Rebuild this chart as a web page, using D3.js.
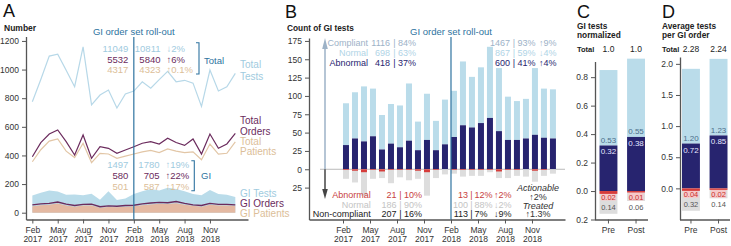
<!DOCTYPE html>
<html>
<head>
<meta charset="utf-8">
<title>GI order set roll-out</title>
<script src="https://d3js.org/d3.v7.min.js"></script>
<style>
  body { margin: 0; background: #fff; }
  svg { font-family: "Liberation Sans", Arial, "DejaVu Sans", sans-serif; }
</style>
</head>
<body>
<svg id="chart" width="731" height="246"></svg>
<script>
// ---- data ----
const tickIdx = [0, 3, 6, 9, 12, 15, 18, 21];
const tickMonths = ["Feb", "May", "Aug", "Nov", "Feb", "May", "Aug", "Nov"];
const tickYears = ["2017", "2017", "2017", "2017", "2018", "2018", "2018", "2018"];

// panel A, monthly Feb 2017 .. Feb 2019
const totalTests = [775, 930, 1094, 1108, 995, 880, 1159, 753, 822, 857, 731, 830,
                    850, 915, 870, 930, 988, 915, 925, 905, 742, 997, 850, 880, 973];
const totalOrders = [391, 489, 550, 578, 496, 403, 543, 380, 461, 450, 415, 438,
                     461, 485, 496, 480, 520, 490, 470, 515, 410, 550, 450, 480, 554];
const totalPatients = [356, 440, 500, 515, 430, 385, 485, 350, 415, 410, 380, 395,
                       410, 425, 435, 420, 445, 430, 420, 425, 370, 480, 410, 415, 495];
const giTests = [120, 140, 155, 148, 125, 128, 122, 132, 90, 150, 88, 100,
                 130, 150, 165, 155, 175, 165, 150, 130, 122, 158, 130, 125, 110];
const giOrders = [55, 62, 65, 75, 60, 50, 58, 60, 42, 48, 45, 50,
                  52, 62, 68, 72, 70, 78, 65, 55, 50, 65, 58, 58, 55];
const giPatients = [45, 52, 55, 65, 50, 42, 50, 50, 35, 40, 38, 42,
                    45, 52, 58, 62, 60, 66, 55, 48, 42, 55, 50, 50, 48];

const preTotals = ["11049", "5532", "4317"];
const postTotals = ["10811", "5840", "4323"];
const chgTotals = ["↓2%", "↑6%", "↑0.1%"];
const preGI = ["1497", "580", "501"];
const postGI = ["1780", "705", "587"];
const chgGI = ["↑19%", "↑22%", "↑17%"];

// panel B, monthly Feb 2017 .. Jan 2019
const compliantB = [90, 105, 113, 110, 74, 89, 87, 117, 65, 103, 66, 95,
                    107, 147, 126, 139, 167, 138, 99, 93, 96, 138, 110, 109];
const abnormalB = [33, 42, 38, 45, 27, 35, 30, 39, 26, 40, 26, 34,
                   44, 60, 57, 63, 70, 52, 40, 40, 42, 47, 43, 42];
const noncompB = [13, 18, 36, 13, 12, 19, 11, 15, 13, 36, 12, 7,
                  6, 10, 9, 9, 4, 12, 12, 9, 10, 17, 9, 6];
const noncompAbnB = [1, 2, 4, 1, 3, 1, 1, 1, 2, 4, 1, 0,
                     1, 1, 1, 1, 1, 3, 1, 1, 0, 2, 1, 0];

const topLabelsB = ["Compliant", "Normal", "Abnormal"];
const topPreB = ["1116", "698", "418"];
const topPrePctB = ["84%", "63%", "37%"];
const topPostB = ["1467", "867", "600"];
const topPostPctB = ["93%", "59%", "41%"];
const topChgB = ["↑9%", "↓4%", "↑4%"];
const botLabelsB = ["Abnormal", "Normal", "Non-compliant"];
const botPreB = ["21", "186", "207"];
const botPrePctB = ["10%", "90%", "16%"];
const botPostB = ["13", "100", "113"];
const botPostPctB = ["12%", "88%", "7%"];
const botChgB = ["↑2%", "↓2%", "↓9%"];

// panels C and D
const periods = ["Pre", "Post"];
const normTotal = ["1.0", "1.0"];
const normNormal = [0.53, 0.55];
const normAbnormal = [0.32, 0.38];
const normNcAbn = [0.02, 0.01];
const normNcNormal = [0.14, 0.06];
const avgTotal = ["2.28", "2.24"];
const avgNormal = [1.20, 1.23];
const avgAbnormal = [0.72, 0.85];
const avgNcAbn = [0.04, 0.02];
const avgNcNormal = [0.32, 0.14];

// ---- colours ----
const ROLL = "#2e73a0";
const TESTS = "#b7d8e8", TESTS_TXT = "#9fcbe0";
const ORDERS = "#6b2b5d";
const PATS = "#e2c6a6", PATS_TXT = "#dcbe98";
const GI_PAT = "#e4b9a2";
const LBLUE = "#badcea", NAVY = "#27246f", RED = "#d63c3a", GRAY = "#dddddd", PINK = "#f6c9c9";
const COMPL = "#9db2c7";

const svg = d3.select("#chart");
const FONT = '"Liberation Sans", Arial, "DejaVu Sans", sans-serif';

function label(x, y, s, o = {}) {
  return svg.append("text")
    .attr("x", x).attr("y", y)
    .attr("font-size", o.size || 9.5)
    .attr("fill", o.fill || "#333")
    .attr("text-anchor", o.anchor || "start")
    .attr("font-weight", o.weight || "normal")
    .attr("font-style", o.style || "normal")
    .text(s);
}

function styleAxis(g) {
  g.attr("font-family", FONT);
  g.select(".domain").attr("stroke", "#555").attr("stroke-width", 1.3);
  g.selectAll(".tick line").attr("stroke", "#555");
  g.selectAll(".tick text").attr("fill", "#333").attr("font-size", 8.5);
}

function monthAxis(scale, y) {
  const g = svg.append("g").attr("transform", `translate(0,${y})`)
    .call(d3.axisBottom(scale).tickValues(tickIdx).tickSize(4).tickSizeOuter(0).tickFormat(""));
  styleAxis(g);
  g.selectAll(".tick text").each(function (d, i) {
    const t = d3.select(this);
    t.append("tspan").attr("x", 0).attr("dy", "0.71em").text(tickMonths[i]);
    t.append("tspan").attr("x", 0).attr("dy", "1.15em").text(tickYears[i]);
  });
}

// ================= Panel A =================
label(3, 17, "A", { size: 18, fill: "#111" });
label(4, 31, "Number", { size: 8.5, weight: "bold", fill: "#222" });

const xA = d3.scaleLinear().domain([-0.75, 25.5]).range([26, 248]);
const yA = d3.scaleLinear().domain([-47.5, 1231]).range([219.5, 36.5]);

const areaA = d3.area().x((d, i) => xA(i)).y0(yA(0)).y1(d => yA(d));
const lineA = d3.line().x((d, i) => xA(i)).y(d => yA(d));

svg.append("path").datum(giTests).attr("d", areaA).attr("fill", LBLUE);
svg.append("path").datum(giPatients).attr("d", areaA).attr("fill", GI_PAT);
svg.append("path").datum(giOrders).attr("d", lineA).attr("fill", "none")
  .attr("stroke", ORDERS).attr("stroke-width", 1.4);

svg.append("path").datum(totalTests).attr("d", lineA).attr("fill", "none")
  .attr("stroke", TESTS).attr("stroke-width", 1.2);
svg.append("path").datum(totalPatients).attr("d", lineA).attr("fill", "none")
  .attr("stroke", PATS).attr("stroke-width", 1.2);
svg.append("path").datum(totalOrders).attr("d", lineA).attr("fill", "none")
  .attr("stroke", ORDERS).attr("stroke-width", 1.2);

styleAxis(svg.append("g").attr("transform", "translate(26,0)")
  .call(d3.axisLeft(yA).tickValues(d3.range(0, 1201, 200)).tickSize(4).tickSizeOuter(0)
    .tickFormat(d3.format("d"))));
monthAxis(xA, 219.5);

svg.append("line").attr("x1", xA(12)).attr("x2", xA(12)).attr("y1", 37).attr("y2", 219.5)
  .attr("stroke", ROLL).attr("stroke-width", 1.2);
label(xA(12), 34.5, "GI order set roll-out", { fill: ROLL, anchor: "middle" });

const rowColA = [TESTS_TXT, ORDERS, PATS_TXT];
[51.5, 62.5, 73].forEach((y, i) => {
  label(128.3, y, preTotals[i], { fill: rowColA[i], anchor: "end" });
  label(160.5, y, postTotals[i], { fill: rowColA[i], anchor: "end" });
  label(166.5, y, chgTotals[i], { fill: rowColA[i] });
});
[167.5, 178.5, 189.5].forEach((y, i) => {
  label(128.3, y, preGI[i], { fill: rowColA[i], anchor: "end" });
  label(159.5, y, postGI[i], { fill: rowColA[i], anchor: "end" });
  label(165.5, y, chgGI[i], { fill: rowColA[i] });
});
svg.append("path").attr("d", "M196,42.7H199V74H196").attr("fill", "none").attr("stroke", ROLL).attr("stroke-width", 1.1);
label(204, 63.5, "Total", { fill: ROLL });
svg.append("path").attr("d", "M191.3,160.7H194.3V190.7H191.3").attr("fill", "none").attr("stroke", ROLL).attr("stroke-width", 1.1);
label(201, 178.5, "GI", { fill: ROLL });

label(240, 68, "Total", { fill: TESTS_TXT, size: 10 });
label(240, 79.5, "Tests", { fill: TESTS_TXT, size: 10 });
label(240, 123.5, "Total", { fill: ORDERS, size: 10 });
label(240, 135, "Orders", { fill: ORDERS, size: 10 });
label(240, 144.5, "Total", { fill: PATS_TXT, size: 10 });
label(240, 155, "Patients", { fill: PATS_TXT, size: 10 });
label(240, 196.5, "GI Tests", { fill: TESTS_TXT, size: 10 });
label(240, 206.5, "GI Orders", { fill: ORDERS, size: 10 });
label(240, 216.5, "GI Patients", { fill: PATS_TXT, size: 10 });

// ================= Panel B =================
label(285, 18, "B", { size: 18, fill: "#111" });
label(287, 31, "Count of GI tests", { size: 8.3, weight: "bold", fill: "#222" });

const xB = d3.scaleLinear().domain([-3.78, 24.67]).range([309, 565]);
const yB = d3.scaleLinear().domain([-68.5, 179]).range([219.5, 38]);
const bw = 6;
const idxB = d3.range(compliantB.length);

svg.append("line").attr("x1", 320).attr("x2", 565).attr("y1", yB(0)).attr("y2", yB(0))
  .attr("stroke", "#aaa").attr("stroke-width", 0.8);

svg.append("g").selectAll("rect").data(idxB).join("rect")
  .attr("x", i => xB(i + 0.33) - bw / 2).attr("width", bw)
  .attr("y", i => yB(compliantB[i])).attr("height", i => yB(abnormalB[i]) - yB(compliantB[i]))
  .attr("fill", LBLUE);
svg.append("g").selectAll("rect").data(idxB).join("rect")
  .attr("x", i => xB(i + 0.33) - bw / 2).attr("width", bw)
  .attr("y", i => yB(abnormalB[i])).attr("height", i => yB(0) - yB(abnormalB[i]))
  .attr("fill", NAVY);
svg.append("g").selectAll("rect").data(idxB).join("rect")
  .attr("x", i => xB(i + 0.33) - bw / 2).attr("width", bw)
  .attr("y", yB(0)).attr("height", i => yB(-noncompB[i]) - yB(0))
  .attr("fill", GRAY);
svg.append("g").selectAll("rect").data(idxB).join("rect")
  .attr("x", i => xB(i + 0.33) - bw / 2).attr("width", bw)
  .attr("y", yB(0)).attr("height", i => yB(-noncompAbnB[i]) - yB(0))
  .attr("fill", RED);

styleAxis(svg.append("g").attr("transform", "translate(309,0)")
  .call(d3.axisLeft(yB).tickValues(d3.range(-25, 176, 25)).tickSize(4).tickSizeOuter(0)
    .tickFormat(d => Math.abs(d))));
monthAxis(xB, 219.5);

// arrows
svg.append("line").attr("x1", 325).attr("x2", 325).attr("y1", yB(0)).attr("y2", 48)
  .attr("stroke", COMPL).attr("stroke-width", 1.5);
svg.append("path").attr("d", "M322.2,49L325,38L327.8,49Z").attr("fill", COMPL);
svg.append("line").attr("x1", 325).attr("x2", 325).attr("y1", yB(0)).attr("y2", 190)
  .attr("stroke", "#444").attr("stroke-width", 1.5);
svg.append("path").attr("d", "M322.2,189L325,199L327.8,189Z").attr("fill", "#444");

svg.append("line").attr("x1", xB(12)).attr("x2", xB(12)).attr("y1", 37).attr("y2", 219.5)
  .attr("stroke", ROLL).attr("stroke-width", 1.2);
label(xB(12), 34.5, "GI order set roll-out", { fill: ROLL, anchor: "middle" });

const topColB = [COMPL, "#b0d4e6", NAVY];
[46, 55.6, 66].forEach((y, i) => {
  const o = { fill: topColB[i], size: 9 };
  label(368, y, topLabelsB[i], { ...o, anchor: "end" });
  label(390, y, topPreB[i], { ...o, anchor: "end" });
  label(394.5, y, "|", { ...o, anchor: "middle" });
  label(398, y, topPrePctB[i], o);
  label(510, y, topPostB[i], { ...o, anchor: "end" });
  label(514, y, "|", { ...o, anchor: "middle" });
  label(517.5, y, topPostPctB[i], o);
  label(539, y, topChgB[i], o);
});
const botColB = ["#c8413e", "#c4c4c4", "#222"];
[197.5, 207.5, 217].forEach((y, i) => {
  const o = { fill: botColB[i], size: 9 };
  label(370.7, y, botLabelsB[i], { ...o, anchor: "end" });
  label(396.5, y, botPreB[i], { ...o, anchor: "end" });
  label(400.5, y, "|", { ...o, anchor: "middle" });
  label(404, y, botPrePctB[i], o);
  label(468, y, botPostB[i], { ...o, anchor: "end" });
  label(471.5, y, "|", { ...o, anchor: "middle" });
  label(474.5, y, botPostPctB[i], o);
  label(494, y, botChgB[i], o);
});
label(538, 191, "Actionable", { anchor: "middle", style: "italic", size: 9 });
label(538, 200, "↑2%", { anchor: "middle", size: 9 });
label(538, 208.5, "Treated", { anchor: "middle", style: "italic", size: 9 });
label(538, 217, "↑1.3%", { anchor: "middle", size: 9 });

// ================= Panels C and D =================
function stackPanel(cfg) {
  const x = d3.scaleBand().domain(periods).range(cfg.band).paddingInner(0.35);
  const y = d3.scaleLinear().domain(cfg.domain).range([219.5, cfg.top]);
  const bwid = x.bandwidth();
  const z = y(0);

  label(cfg.letterX, 18, cfg.letter, { size: 18, fill: "#111" });
  label(cfg.titleX, 29, cfg.title[0], { size: 8.3, weight: "bold", fill: "#222" });
  label(cfg.titleX, 38, cfg.title[1], { size: 8.3, weight: "bold", fill: "#222" });
  label(cfg.titleX, 52, "Total", { size: 7.5, weight: "bold", fill: "#222" });

  periods.forEach((p, i) => {
    const cx = x(p);
    const ab = cfg.abnormal[i], nm = cfg.normal[i], na = cfg.ncAbn[i], nn = cfg.ncNormal[i];
    label(cx + bwid / 2, 52, cfg.total[i], { size: 8.5, anchor: "middle", fill: "#222" });
    svg.append("rect").attr("x", cx).attr("width", bwid)
      .attr("y", y(ab + nm)).attr("height", y(ab) - y(ab + nm)).attr("fill", LBLUE);
    svg.append("rect").attr("x", cx).attr("width", bwid)
      .attr("y", y(ab)).attr("height", z - y(ab)).attr("fill", NAVY);
    svg.append("rect").attr("x", cx).attr("width", bwid)
      .attr("y", y(-na)).attr("height", y(-na - nn) - y(-na)).attr("fill", GRAY);
    svg.append("rect").attr("x", cx + 1.5).attr("width", bwid - 3)
      .attr("y", z + 1.5).attr("height", 8).attr("fill", PINK);
    svg.append("rect").attr("x", cx).attr("width", bwid)
      .attr("y", z).attr("height", Math.max(1.5, y(-na) - z)).attr("fill", RED);

    label(cx + bwid / 2, y(ab) - 2.5, nm.toFixed(2), { size: 8, anchor: "middle", fill: "#4d6f8a" });
    label(cx + bwid / 2, y(ab) + 9, ab.toFixed(2), { size: 8, anchor: "middle", fill: "#e6e6ff" });
    label(cx + bwid / 2, z + 8.5, na.toFixed(2), { size: 7.5, anchor: "middle", fill: "#c8302c" });
    label(cx + bwid / 2, z + 18.5, nn.toFixed(2), { size: 7.5, anchor: "middle", fill: "#555" });
  });

  styleAxis(svg.append("g").attr("transform", `translate(${cfg.axisX},0)`)
    .call(d3.axisLeft(y).tickValues(cfg.ticks).tickSize(4).tickSizeOuter(0)
      .tickFormat(d => Math.abs(d).toFixed(1))));
  const gx = svg.append("g").attr("transform", "translate(0,219.5)")
    .call(d3.axisBottom(x).tickSize(4).tickSizeOuter(0));
  styleAxis(gx);
  gx.select(".domain").attr("d", `M${cfg.axisX},0.5H${cfg.xEnd}`);
}

stackPanel({
  letter: "C", letterX: 577, titleX: 577, title: ["GI tests", "normalized"],
  total: normTotal, normal: normNormal, abnormal: normAbnormal, ncAbn: normNcAbn, ncNormal: normNcNormal,
  band: [599.5, 645], axisX: 595, xEnd: 648, top: 61.5,
  domain: [-0.2, 0.91], ticks: [-0.2, 0, 0.2, 0.4, 0.6, 0.8]
});
stackPanel({
  letter: "D", letterX: 662, titleX: 662, title: ["Average tests", "per GI order"],
  total: avgTotal, normal: avgNormal, abnormal: avgAbnormal, ncAbn: avgNcAbn, ncNormal: avgNcNormal,
  band: [682, 727.5], axisX: 680, xEnd: 730, top: 57,
  domain: [-0.5, 2.11], ticks: [0, 0.5, 1.0, 1.5, 2.0]
});
</script>
</body>
</html>
